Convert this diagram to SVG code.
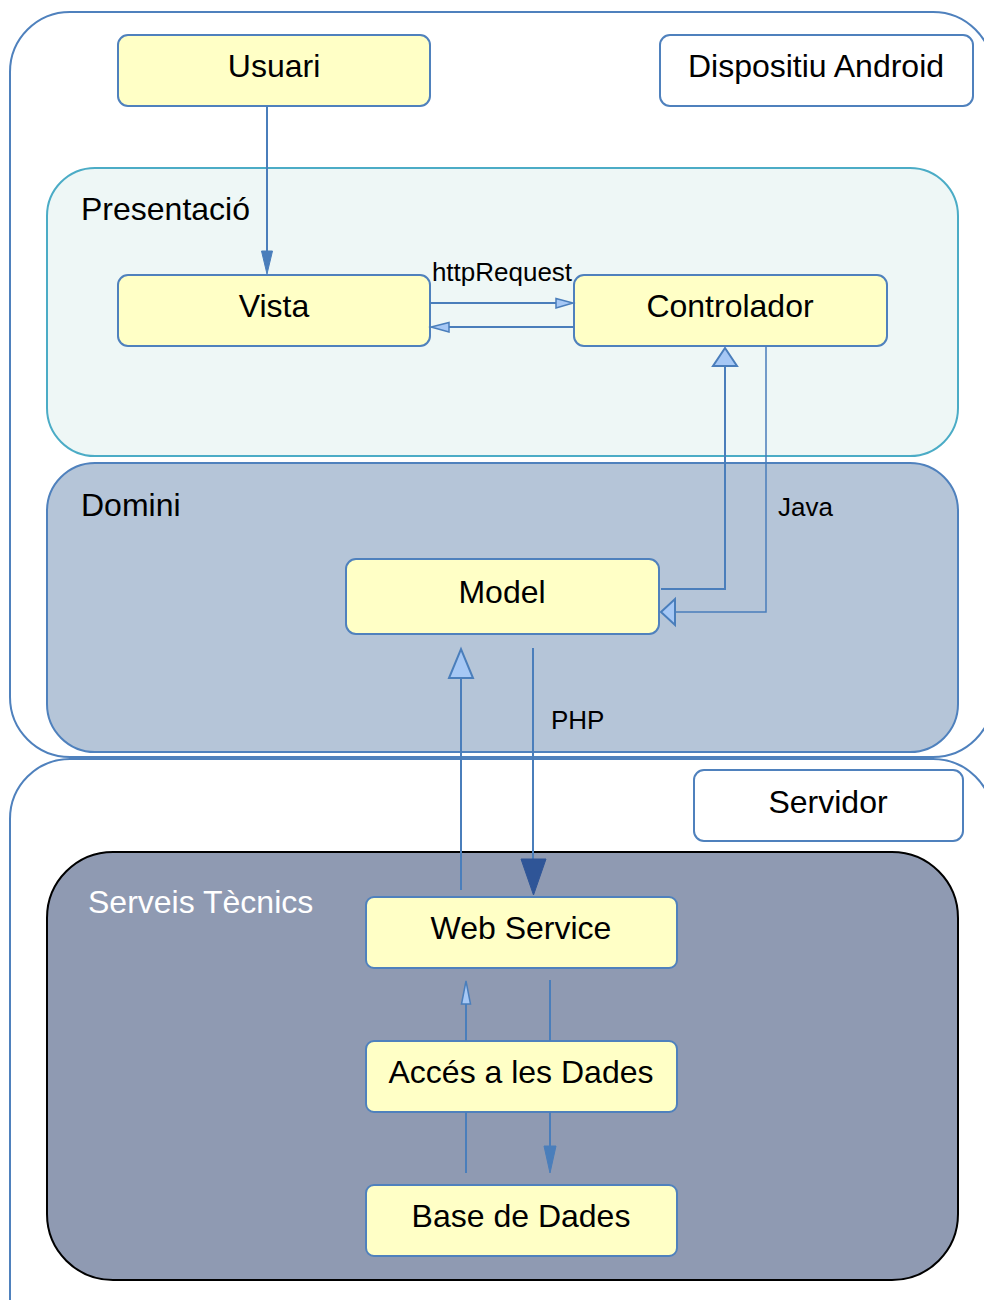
<svg xmlns="http://www.w3.org/2000/svg" width="984" height="1300" viewBox="0 0 984 1300">
<style>
.cont{fill:#FFFFFF;stroke:#4F81BD;stroke-width:2}
.node{fill:#FFFFC6;stroke:#4F81BD;stroke-width:2}
.lbl{fill:#FFFFFF;stroke:#4F81BD;stroke-width:2}
.t{font-family:"Liberation Sans",Arial,sans-serif;font-size:32px;fill:#000}
.tc{text-anchor:middle}
.s{font-family:"Liberation Sans",Arial,sans-serif;font-size:26px;fill:#000}
.ln{fill:none;stroke:#4A7EBB;stroke-width:2}
.ahl{fill:#A6C8F5;stroke:#4A7EBB;stroke-width:2;stroke-linejoin:miter}
.ahm{fill:#4A7EBB;stroke:#4A7EBB;stroke-width:1}
.ahd{fill:#2F5597;stroke:#2F5597;stroke-width:1}
</style>
<rect width="984" height="1300" fill="#FFFFFF"/>
<g id="android-container">
<rect class="cont" x="10" y="12" width="983" height="745" rx="60" ry="60"/>
</g>
<g id="servidor-container">
<rect class="cont" x="10" y="759" width="983" height="600" rx="60" ry="60"/>
</g>
<g id="presentacio">
<rect x="47" y="168" width="911" height="288" rx="48" ry="48" fill="#EEF7F6" stroke="#4BACC6" stroke-width="2"/>
<text class="t" x="81" y="220">Presentació</text>
</g>
<g id="domini">
<rect x="47" y="463" width="911" height="289" rx="48" ry="48" fill="#B5C5D8" stroke="#4F81BD" stroke-width="2"/>
<text class="t" x="81" y="516">Domini</text>
</g>
<g id="serveis">
<rect x="47" y="852" width="911" height="428" rx="66" ry="66" fill="#8F9AB2" stroke="#000000" stroke-width="2"/>
<text class="t" x="88" y="913" fill="#FFFFFF" style="fill:#FFFFFF">Serveis Tècnics</text>
</g>
<g id="usuari">
<rect class="node" x="118" y="35" width="312" height="71" rx="10"/>
<text class="t tc" x="274" y="77">Usuari</text>
</g>
<g id="dispositiu">
<rect class="lbl" x="660" y="35" width="313" height="71" rx="10"/>
<text class="t tc" x="816" y="77">Dispositiu Android</text>
</g>
<g id="vista">
<rect class="node" x="118" y="275" width="312" height="71" rx="10"/>
<text class="t tc" x="274" y="317">Vista</text>
</g>
<g id="controlador">
<rect class="node" x="574" y="275" width="313" height="71" rx="10"/>
<text class="t tc" x="730" y="317">Controlador</text>
</g>
<g id="model">
<rect class="node" x="346" y="559" width="313" height="75" rx="10"/>
<text class="t tc" x="502" y="603">Model</text>
</g>
<g id="servidor">
<rect class="lbl" x="694" y="770" width="269" height="71" rx="10"/>
<text class="t tc" x="828" y="813">Servidor</text>
</g>
<g id="webservice">
<rect class="node" x="366" y="897" width="311" height="71" rx="8"/>
<text class="t tc" x="521" y="939">Web Service</text>
</g>
<g id="acces">
<rect class="node" x="366" y="1041" width="311" height="71" rx="8"/>
<text class="t tc" x="521" y="1083">Accés a les Dades</text>
</g>
<g id="base">
<rect class="node" x="366" y="1185" width="311" height="71" rx="8"/>
<text class="t tc" x="521" y="1227">Base de Dades</text>
</g>
<g id="connectors">
<!-- Usuari -> Vista -->
<line class="ln" x1="267" y1="106" x2="267" y2="252"/>
<polygon class="ahm" points="261.5,251 272.5,251 267,274"/>
<!-- Vista -> Controlador -->
<line class="ln" x1="430" y1="303" x2="556" y2="303"/>
<polygon class="ahl" points="556,298.5 556,308 573,303" style="stroke-width:1.5"/>
<text class="s tc" x="502" y="281">httpRequest</text>
<!-- Controlador -> Vista -->
<line class="ln" x1="574" y1="327" x2="449" y2="327"/>
<polygon class="ahl" points="449,322.5 449,332 431,327" style="stroke-width:1.5"/>
<!-- Model -> Controlador -->
<polyline class="ln" points="661,589 725,589 725,366"/>
<polygon class="ahl" points="713,366 737,366 725,348"/>
<!-- Controlador -> Model -->
<polyline class="ln" points="766,346 766,612 675,612" style="stroke-width:1.5"/>
<polygon class="ahl" points="675,599 675,625 661,612"/>
<text class="s" x="778" y="516">Java</text>
<!-- Web Service -> Model -->
<line class="ln" x1="461" y1="890" x2="461" y2="678"/>
<polygon class="ahl" points="449,678 473,678 461,649"/>
<!-- Model -> Web Service -->
<line class="ln" x1="533" y1="648" x2="533" y2="860"/>
<polygon class="ahd" points="521,859 546,859 533.5,895"/>
<text class="s" x="551" y="729">PHP</text>
<!-- Acces -> Web Service -->
<line class="ln" x1="466" y1="1041" x2="466" y2="1004"/>
<polygon class="ahl" points="461.5,1004 470.5,1004 466,981" style="stroke-width:1.5"/>
<!-- Web Service -> Acces -->
<line class="ln" x1="550" y1="980" x2="550" y2="1041"/>
<!-- Base -> Acces -->
<line class="ln" x1="466" y1="1112" x2="466" y2="1173"/>
<!-- Acces -> Base -->
<line class="ln" x1="550" y1="1112" x2="550" y2="1147"/>
<polygon class="ahm" points="544,1146 556,1146 550,1173"/>
</g>
</svg>
